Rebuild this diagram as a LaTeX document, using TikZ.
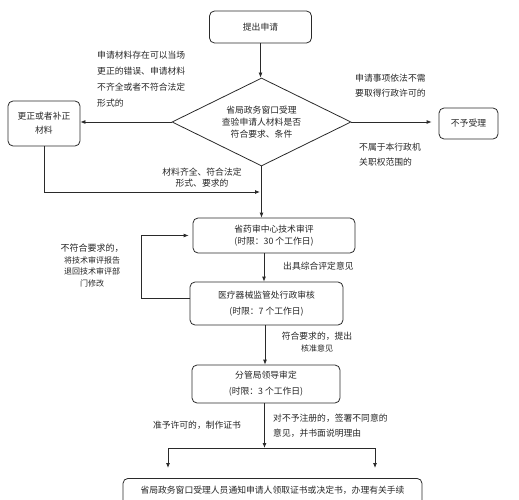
\documentclass[tikz,border=0pt]{standalone}
\usepackage{fontspec}
\newfontfamily\cjk{Noto Sans CJK SC}
\usetikzlibrary{shapes.geometric,arrows.meta}
\definecolor{ln}{HTML}{2A2A2A}
\definecolor{tx}{HTML}{262626}
\tikzset{
  box/.style={draw=ln, rounded corners=5pt, line width=0.8pt, align=center, inner sep=0pt, text=tx},
  lab/.style={inner sep=0pt, text=tx},
  arr/.style={draw=ln, line width=0.8pt, -{Latex[length=5pt,width=4pt]}},
  ln/.style={draw=ln, line width=0.8pt},
  fnt/.style={font=\cjk\fontsize{8.8}{#1}\selectfont},
}
\begin{document}
\begin{tikzpicture}[x=1pt,y=-1pt]
\useasboundingbox (0,0) rectangle (519,500);
\clip (0,0) rectangle (519,500);
% nodes
\node[box, fnt=12, minimum width=102pt, minimum height=32pt] (start) at (260.5,27) {提出申请};
\node[draw=ln, line width=0.8pt, shape=diamond, aspect=2, minimum width=179pt, minimum height=88pt, inner sep=0pt, align=center, text=tx, fnt=12] (chk) at (261.5,122) {省局政务窗口受理\\查验申请人材料是否\\符合要求、条件};
\node[box, fnt=14, minimum width=72pt, minimum height=45pt] (fix) at (44,123.5) {更正或者补正\\材料};
\node[box, fnt=12, minimum width=59pt, minimum height=31pt] (nobox) at (468.5,123.5) {不予受理};
\node[box, fnt=11.5, minimum width=162pt, minimum height=35pt] (box2) at (274,235.5) {省药审中心技术审评\\(时限：30 个工作日)};
\node[box, fnt=16, minimum width=153pt, minimum height=43pt] (box3) at (266.5,303.5) {医疗器械监管处行政审核\\(时限：7 个工作日)};
\node[box, fnt=16, minimum width=148pt, minimum height=38pt] (box4) at (266,384) {分管局领导审定\\(时限：3 个工作日)};
\node[box, fnt=12, minimum width=299pt, anchor=north, text height=8pt, text depth=30pt, inner ysep=7.5pt] (done) at (272.5,478) {省局政务窗口受理人员通知申请人领取证书或决定书，办理有关手续};
% labels
\node[lab, fnt=16, align=left, anchor=west] (l1) at (97,79) {申请材料存在可以当场\\更正的错误、申请材料\\不齐全或者不符合法定\\形式的};
\node[lab, fnt=11.5, align=center] (l2) at (202,177.5) {材料齐全、符合法定\\形式、要求的};
\node[lab, fnt=15, align=left, anchor=west] (r1) at (355,85.5) {申请事项依法不需\\要取得行政许可的};
\node[lab, fnt=15, align=left, anchor=west] (r2) at (359,154.5) {不属于本行政机\\关职权范围的};
\node[lab, fnt=12, anchor=west] (l3) at (283,266) {出具综合评定意见};
\node[lab, font=\cjk\fontsize{8}{11.7}\selectfont, align=center] (l4) at (92,265.5) {{\fontsize{9}{11.7}\selectfont 不符合要求的，}\\将技术审评报告\\退回技术审评部\\门修改};
\node[lab, fnt=12, align=center] (l5) at (317,342) {符合要求的，提出\\{\fontsize{8}{12}\selectfont 核准意见}};
\node[lab, fnt=12] (l6) at (197,425) {准予许可的，制作证书};
\node[lab, fnt=15, align=left, anchor=west] (l7) at (273,425.5) {对不予注册的，签署不同意的\\意见，并书面说明理由};
% coordinates
\coordinate (j1) at (261.5,192);
\coordinate (bar) at (265,448);
\coordinate (bl) at (168,448);
\coordinate (br) at (375,448);
% connectors
\draw[arr] (start.south) -- (start.south |- chk.north);
\draw[arr] (chk.west) -- (chk.west -| fix.east);
\draw[arr, shorten >=7pt] (chk.east) -- (chk.east -| nobox.west);
\draw[arr] (chk.south) -- (chk.south |- box2.north);
\draw[arr, shorten >=1.5pt] (fix.south) |- (j1);
\draw[arr] ([xshift=-10pt]box2.south) -- ([xshift=-10pt]box2.south |- box3.north);
\draw[arr, shorten >=4pt] ([yshift=5.5pt]box3.west) -- ++(-48,0) |- (box2.west);
\draw[arr] ([xshift=-1.5pt]box3.south) -- ([xshift=-1.5pt]box3.south |- box4.north);
\draw[arr] ([xshift=-1.5pt]box4.south) -- ([xshift=-1.5pt]box4.south |- bar);
\draw[ln] (bl) -- (br);
\draw[arr, shorten >=10pt] (bl) -- (bl |- done.north);
\draw[arr, shorten >=10pt] (br) -- (br |- done.north);
\end{tikzpicture}
\end{document}
